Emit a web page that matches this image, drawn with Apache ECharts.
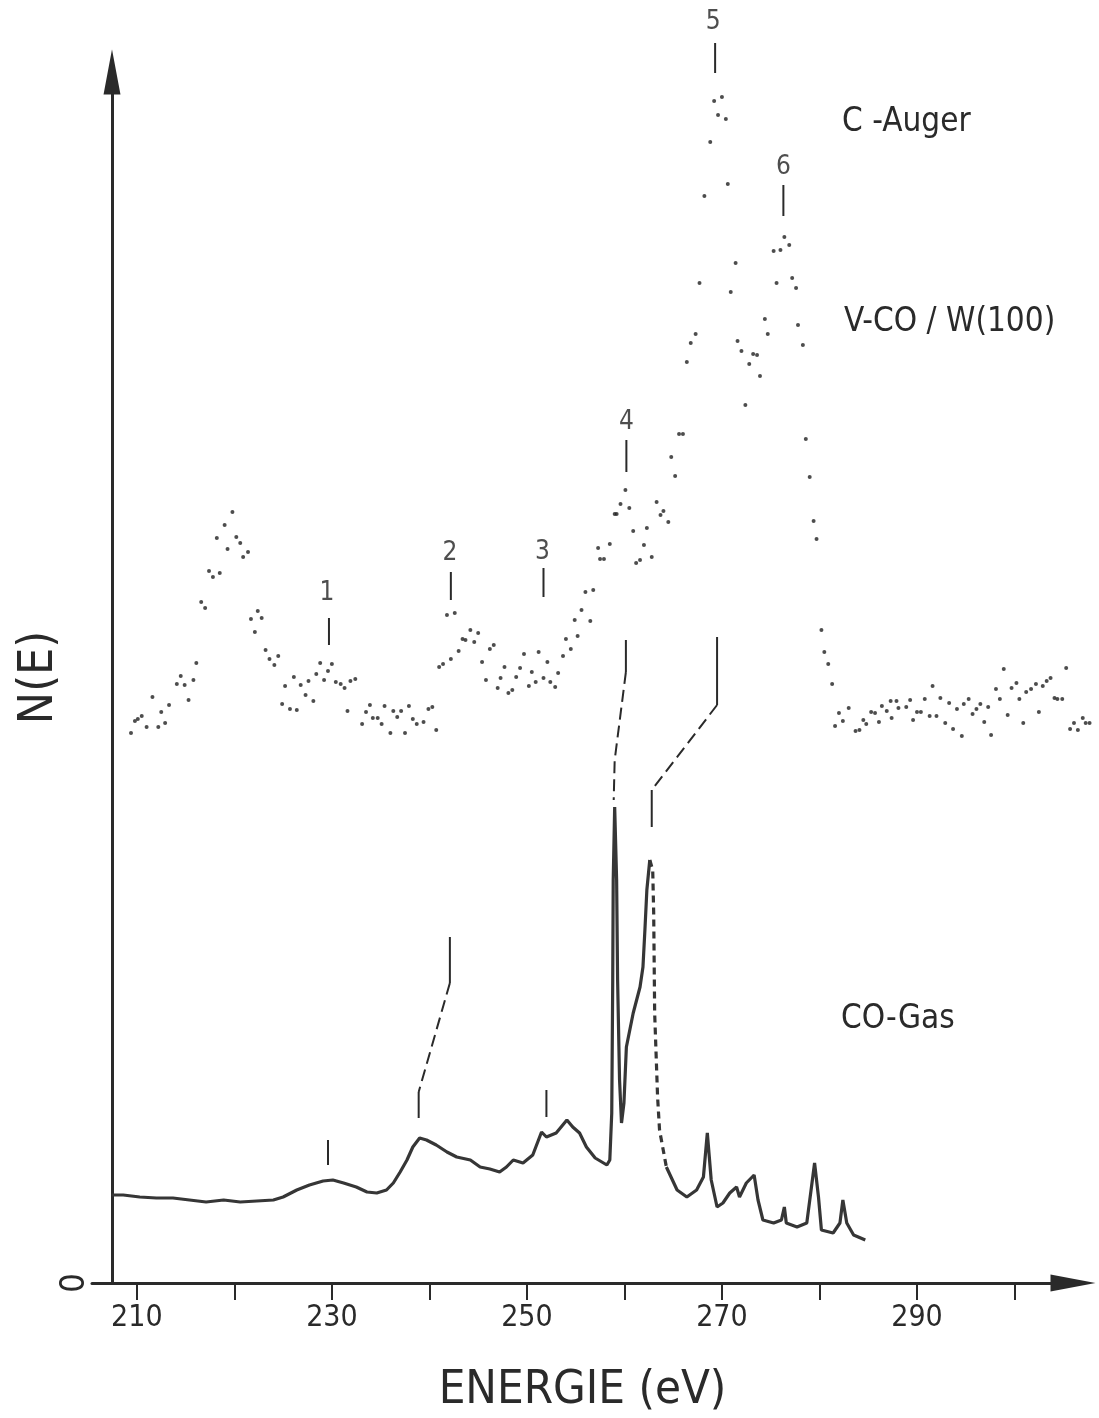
<!DOCTYPE html>
<html>
<head>
<meta charset="utf-8">
<title>N(E) – C-Auger V-CO/W(100), CO-Gas</title>
<script src="https://cdn.jsdelivr.net/npm/echarts@6/dist/echarts.min.js"></script>
<style>
  html, body { margin: 0; padding: 0; background: #fff; }
  #chart { width: 1099px; height: 1418px; }
</style>
</head>
<body>
<div id="chart"></div>
<script>
const font = "'DejaVu Sans Condensed', 'Liberation Sans Narrow', 'DejaVu Sans', sans-serif";
const ink = "#2a2a2a";

// x axis: energy in eV
const xTicks = [210, 220, 230, 240, 250, 260, 270, 280, 290, 300];
const xLabels = [210, 230, 250, 270, 290];

// upper spectrum: C-Auger, V-CO/W(100), dotted points
const augerEnergy = [
  209.4, 209.8, 210.1, 210.5, 211.0, 211.6, 212.2, 212.5, 212.9, 213.3,
  214.1, 214.5, 214.9, 215.3, 215.8, 216.1, 216.6, 217.0, 217.4, 217.8,
  218.2, 218.5, 219.0, 219.3, 219.8, 220.2, 220.6, 220.9, 221.4, 221.7,
  222.1, 222.4, 222.8, 223.2, 223.6, 224.1, 224.5, 224.9, 225.2, 225.7,
  226.1, 226.4, 226.8, 227.3, 227.6, 228.1, 228.4, 228.8, 229.2, 229.6,
  230.0, 230.4, 230.9, 231.3, 231.6, 231.9, 232.4, 233.1, 233.5, 233.9,
  234.2, 234.7, 235.1, 235.4, 236.0, 236.3, 236.7, 237.1, 237.5, 237.9,
  238.3, 238.7, 239.4, 239.9, 240.3, 240.7, 241.0, 241.4, 241.8, 242.2,
  242.6, 243.0, 243.4, 243.7, 244.2, 244.6, 245.0, 245.4, 245.8, 246.2,
  246.6, 247.0, 247.3, 247.7, 248.1, 248.5, 248.9, 249.3, 249.7, 250.2,
  250.5, 250.9, 251.2, 251.7, 252.1, 252.4, 252.9, 253.2, 253.7, 254.0,
  254.5, 254.9, 255.2, 255.6, 256.0, 256.5, 256.8, 257.3, 257.5, 257.9,
  258.5, 259.0, 259.2, 259.6, 260.1, 260.5, 260.9, 261.2, 261.6, 262.0,
  262.3, 262.8, 263.3, 263.7, 264.0, 264.5, 264.8, 265.2, 265.6, 266.0,
  266.4, 266.8, 267.3, 267.7, 268.2, 268.8, 269.2, 269.6, 270.0, 270.4,
  270.6, 270.9, 271.4, 271.6, 272.0, 272.4, 272.8, 273.2, 273.6, 273.9,
  274.4, 274.7, 275.3, 275.6, 276.0, 276.4, 276.9, 277.2, 277.6, 277.8,
  278.3, 278.6, 279.0, 279.4, 279.7, 280.2, 280.5, 280.9, 281.3, 281.6,
  282.0, 282.4, 283.0, 283.7, 284.1, 284.5, 284.8, 285.3, 285.7, 286.1,
  286.4, 286.9, 287.3, 287.4, 287.9, 288.1, 288.9, 289.3, 289.6, 290.0,
  290.4, 290.8, 291.3, 291.6, 292.0, 292.4, 292.9, 293.3, 293.7, 294.1,
  294.6, 294.8, 295.3, 295.7, 296.1, 296.5, 296.9, 297.3, 297.6, 298.1,
  298.5, 298.9, 299.3, 299.7, 300.2, 300.5, 300.9, 301.2, 301.7, 302.2,
  302.5, 302.9, 303.3, 303.7, 304.1, 304.4, 304.9, 305.3, 305.7, 306.1,
  306.5, 307.0, 307.3, 307.7
];
const augerCounts = [
  550, 562, 564, 567, 556, 586, 556, 571, 560, 578,
  599, 607, 598, 583, 603, 620, 681, 675, 712, 706,
  745, 710, 758, 734, 771, 746, 740, 726, 731, 664,
  651, 672, 665, 633, 624, 618, 627, 579, 597, 574,
  606, 573, 598, 588, 602, 582, 609, 620, 603, 612,
  619, 601, 599, 595, 572, 602, 604, 559, 571, 578,
  565, 565, 559, 577, 550, 572, 566, 572, 550, 577,
  564, 559, 561, 574, 576, 553, 616, 619, 668, 624,
  670, 632, 644, 643, 653, 641, 650, 621, 603, 634,
  638, 595, 605, 616, 590, 593, 606, 615, 629, 597,
  611, 601, 631, 605, 621, 601, 596, 610, 627, 644,
  634, 663, 647, 673, 691, 662, 693, 735, 724, 724,
  739, 769, 769, 779, 793, 775, 752, 720, 723, 738,
  755, 726, 781, 768, 772, 761, 826, 807, 849, 849,
  921, 940, 949, 1000, 1087, 1141, 1182, 1168, 1186, 1164,
  1099, 991, 1020, 942, 932, 878, 919, 929, 928, 907,
  964, 949, 1032, 1000, 1033, 1046, 1038, 1005, 995, 958,
  938, 844, 806, 762, 744, 653, 631, 619, 599, 557,
  570, 562, 575, 552, 553, 563, 559, 571, 570, 561,
  577, 572, 582, 565, 582, 575, 576, 583, 563, 571,
  571, 584, 567, 597, 567, 585, 560, 580, 554, 574,
  547, 579, 584, 569, 574, 579, 561, 576, 548, 594,
  584, 614, 568, 595, 600, 584, 560, 591, 594, 599,
  571, 597, 602, 605, 585, 584, 584, 615, 554, 560,
  553, 565, 560, 560
];

// lower spectrum: CO-Gas, recorder trace (solid / dashed / solid)
const gasEnergyA = [
  207.4, 208.6, 210.3, 212.0, 213.7, 215.4, 217.1, 218.9, 220.6, 222.3,
  224.0, 225.0, 226.4, 227.7, 229.1, 230.1, 231.2, 232.5, 233.6, 234.6,
  235.6, 236.3, 237.0, 237.7, 238.3, 239.0, 239.7, 240.7, 241.8, 242.8,
  244.2, 245.2, 246.2, 247.2, 247.9, 248.6, 249.6, 250.6, 251.5, 252.0,
  253.0, 254.1, 254.7, 255.4, 256.1, 257.0, 258.2, 258.5, 258.7, 258.8,
  258.85, 259.0, 259.2, 259.3, 259.5, 259.7, 259.95, 260.2, 260.9, 261.6,
  261.9, 262.1, 262.3, 262.6
];
const gasCountA = [
  88, 88, 86, 85, 85, 83, 81, 83, 81, 82,
  83, 86, 93, 98, 102, 103, 100, 96, 91, 90,
  93, 100, 111, 123, 136, 145, 143, 138, 131, 126,
  123, 116, 114, 111, 116, 123, 120, 128, 151, 146,
  150, 163, 156, 150, 136, 125, 118, 123, 170, 303,
  403, 476, 403, 303, 203, 160, 180, 236, 270, 296,
  316, 353, 393, 423
];
const gasEnergyB = [262.6, 262.9, 263.0, 263.1, 263.4, 263.6, 264.3];
const gasCountB = [423, 413, 370, 270, 186, 153, 116];
const gasEnergyC = [
  264.3, 265.4, 266.4, 267.4, 268.1, 268.5, 268.9, 269.5, 270.1, 270.8,
  271.5, 271.8, 272.5, 273.3, 273.7, 274.2, 275.3, 276.1, 276.4, 276.6,
  277.7, 278.7, 279.5, 279.9, 280.2, 281.4, 282.1, 282.4, 282.8, 283.5,
  284.7
];
const gasCountC = [
  116, 93, 86, 93, 106, 150, 103, 76, 80, 90,
  96, 86, 100, 108, 83, 63, 60, 63, 76, 60,
  56, 60, 120, 86, 53, 50, 60, 83, 60, 48,
  43
];

// peak numbers and their marker strokes (eV, N)
const peakNames = ["1", "2", "3", "4", "5", "6"];
const peakNamePos = [[229.5, 690], [242.1, 730], [251.6, 731], [260.2, 861], [269.1, 1261], [276.3, 1116]];
const solidStrokes = [
  [[229.7, 665], [229.7, 638]],
  [[242.2, 711], [242.2, 683]],
  [[251.7, 715], [251.7, 686]],
  [[260.2, 843], [260.2, 811]],
  [[269.3, 1240], [269.3, 1210]],
  [[276.3, 1098], [276.3, 1067]],
  [[260.15, 643], [260.15, 611]],
  [[269.5, 646], [269.5, 578]],
  [[262.8, 493], [262.8, 456]],
  [[242.1, 346], [242.1, 300]],
  [[238.9, 191], [238.9, 165]],
  [[229.6, 143], [229.6, 118]],
  [[252.0, 193], [252.0, 166]]
];
const dashedStrokes = [
  [[260.15, 611], [259.0, 523], [258.9, 483]],
  [[269.5, 578], [262.8, 493]],
  [[242.1, 300], [238.9, 191]]
];

const pairs = (xs, ys) => xs.map((x, i) => [x, ys[i]]);

function strokeSeries(points, dashed) {
  return {
    type: "line",
    data: points,
    showSymbol: false,
    clip: false,
    silent: true,
    lineStyle: { color: ink, width: 2, type: dashed ? [12, 6] : "solid" }
  };
}

function traceSeries(points, dashed) {
  return {
    type: "line",
    data: points,
    showSymbol: false,
    clip: false,
    silent: true,
    lineStyle: { color: "#363636", width: 3.2, type: dashed ? [7, 5] : "solid" }
  };
}

const chart = echarts.init(document.getElementById("chart"), null, { renderer: "canvas" });

chart.setOption({
  animation: false,
  backgroundColor: "#ffffff",
  textStyle: { fontFamily: font, color: ink },
  grid: { left: 92, right: 26, top: 72, bottom: 135, containLabel: false, outerBoundsMode: "none" },
  xAxis: {
    type: "value",
    min: 205.4,
    max: 306.0,
    name: "ENERGIE (eV)",
    nameLocation: "middle",
    nameGap: 84,
    nameTextStyle: { fontSize: 47, color: ink, fontFamily: font },
    axisLine: {
      show: true,
      symbol: ["none", "triangle"],
      symbolSize: [17, 45],
      lineStyle: { color: ink, width: 3 }
    },
    axisTick: { show: true, customValues: xTicks, length: 17, lineStyle: { color: ink, width: 2 } },
    axisLabel: { customValues: xLabels, fontSize: 30, margin: 20, color: ink, fontFamily: font },
    splitLine: { show: false }
  },
  yAxis: {
    type: "value",
    min: 0,
    max: 1211,
    offset: -20,
    name: "N(E)",
    nameLocation: "middle",
    nameRotate: 90,
    nameGap: 48,
    nameMoveOverlap: false,
    nameTextStyle: { fontSize: 48, color: ink, fontFamily: font },
    axisLine: {
      show: true,
      symbol: ["none", "triangle"],
      symbolSize: [17, 45],
      lineStyle: { color: ink, width: 3 }
    },
    axisTick: { show: false },
    axisLabel: { customValues: [0], rotate: 90, fontSize: 34, margin: 20, color: ink, fontFamily: font },
    splitLine: { show: false }
  },
  graphic: [
    { type: "text", style: { x: 842, y: 122, text: "C -Auger", fontSize: 33, fontFamily: font, fill: ink, verticalAlign: "middle" } },
    { type: "text", style: { x: 844, y: 322, text: "V-CO / W(100)", fontSize: 33, fontFamily: font, fill: ink, verticalAlign: "middle" } },
    { type: "text", style: { x: 841, y: 1019, text: "CO-Gas", fontSize: 33, fontFamily: font, fill: ink, verticalAlign: "middle" } }
  ],
  series: [
    {
      type: "scatter",
      data: pairs(augerEnergy, augerCounts),
      symbol: "circle",
      symbolSize: 4,
      clip: false,
      silent: true,
      itemStyle: { color: "#202020" }
    },
    traceSeries(pairs(gasEnergyA, gasCountA), false),
    traceSeries(pairs(gasEnergyB, gasCountB), true),
    traceSeries(pairs(gasEnergyC, gasCountC), false),
    ...solidStrokes.map((s) => strokeSeries(s, false)),
    ...dashedStrokes.map((s) => strokeSeries(s, true)),
    {
      type: "scatter",
      data: peakNamePos.map((p, i) => ({ value: p, name: peakNames[i] })),
      symbolSize: 0,
      clip: false,
      silent: true,
      label: {
        show: true,
        position: "inside",
        formatter: (p) => p.name,
        fontSize: 26,
        color: "#222222",
        fontFamily: font
      }
    }
  ]
});
</script>
</body>
</html>
